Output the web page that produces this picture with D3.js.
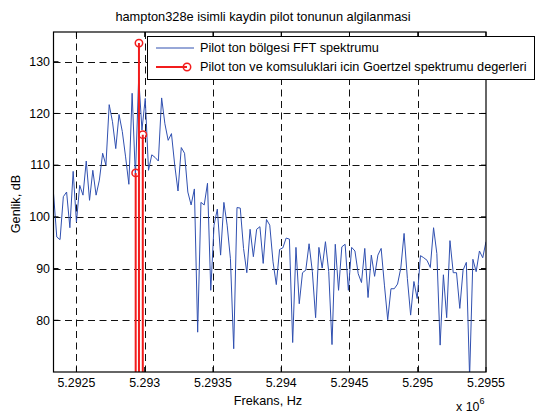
<!DOCTYPE html>
<html>
<head>
<meta charset="utf-8">
<script src="https://cdn.jsdelivr.net/npm/d3@7"></script>
<style>
  body { margin: 0; background: #fff; }
  text { font-family: "Liberation Sans", Arial, sans-serif; fill: #000; }
</style>
</head>
<body>
<div id="chart-area"></div>
<script>
// FFT spectrum around the pilot tone (uniform bins)
const freqStart = 5292332
const binWidth = 24
const fftDb = [
  104.5, 96.1, 95.6, 103.9, 104.8, 97.9, 108.8, 99.0, 106.1, 104.2,
  110.8, 103.2, 109.0, 104.2, 107.1, 112.3, 110.0, 121.7, 118.4, 113.2,
  119.8, 116.5, 111.6, 106.3, 123.9, 107.8, 127.0, 116.8, 122.9, 109.0,
  112.0, 111.5, 110.8, 123.0,
  118.0, 114.8, 116.1, 110.0, 105.0, 113.4, 112.3, 104.8, 102.3, 105.4,
  77.7, 102.8, 102.3, 106.5, 85.8, 98.4, 101.5, 92.6, 102.8, 98.4,
  91.9, 74.5, 101.8, 101.7, 93.9, 89.2, 97.6, 92.3, 97.6, 98.1,
  91.0, 99.5,
  98.4, 91.3, 86.9, 93.7, 94.0, 95.9, 95.7, 75.7, 94.1, 83.2,
  89.2, 89.7, 94.8, 89.4, 80.5, 94.1, 90.1, 95.2, 89.4, 75.3,
  94.7, 85.8, 94.2, 94.7, 85.8, 94.1, 93.4, 89.0, 87.3, 93.9,
  84.4, 92.6, 88.5,
  92.6, 93.9, 86.8, 80.1, 86.1, 86.1, 87.0, 90.1, 96.8, 88.1,
  81.0, 87.5, 84.2, 92.5, 92.1, 91.6, 90.2, 97.9, 92.9, 75.2,
  88.8, 80.5, 95.4, 89.2, 89.2, 82.3, 89.7, 91.2, 69.0, 91.8,
  89.4, 93.4, 92.1, 95.2
]

// Goertzel values for the pilot tone and its neighbours
const goertzelFreq = [5292934, 5292958, 5292986]
const goertzelDb = [108.5, 133.6, 115.9]

const xTicks = [5292500, 5293000, 5293500, 5294000, 5294500, 5295000, 5295500]
const xTickLabels = ["5.2925", "5.293", "5.2935", "5.294", "5.2945", "5.295", "5.2955"]
const yTicks = [80, 90, 100, 110, 120, 130]

const titleText = "hampton328e isimli kaydin pilot tonunun algilanmasi"
const legendLabels = ["Pilot ton bölgesi FFT spektrumu", "Pilot ton ve komsuluklari icin Goertzel spektrumu degerleri"]

const fft = fftDb.map((v, i) => ({ f: freqStart + i * binWidth, db: v }))
const goertzel = goertzelFreq.map((f, i) => ({ f: f, db: goertzelDb[i] }))

const W = 536, H = 415
const pLeft = 53.5, pRight = 486, pTop = 32, pBottom = 372

const svg = d3.select("#chart-area").append("svg")
  .attr("width", W)
  .attr("height", H)

const x = d3.scaleLinear()
  .domain([freqStart, 5295500])
  .range([pLeft, pRight])

const y = d3.scaleLinear()
  .domain([70, 135.75])
  .range([pBottom, pTop])

svg.append("defs").append("clipPath").attr("id", "clip")
  .append("rect")
  .attr("x", pLeft).attr("y", pTop)
  .attr("width", pRight - pLeft).attr("height", pBottom - pTop)

// grid
const grid = svg.append("g")
grid.selectAll(".vg").data(xTicks.slice(0, -1)).enter().append("line")
  .attr("x1", d => Math.round(x(d)) + 0.5).attr("x2", d => Math.round(x(d)) + 0.5)
  .attr("y1", pTop).attr("y2", pBottom)
  .attr("stroke", "#111").attr("stroke-width", 1)
  .attr("stroke-dasharray", "7,4.5")
grid.selectAll(".hg").data(yTicks).enter().append("line")
  .attr("x1", pLeft).attr("x2", pRight)
  .attr("y1", d => Math.round(y(d)) + 0.5).attr("y2", d => Math.round(y(d)) + 0.5)
  .attr("stroke", "#111").attr("stroke-width", 1)
  .attr("stroke-dasharray", "7,4.5")

const plot = svg.append("g").attr("clip-path", "url(#clip)")

// FFT line
plot.append("path")
  .datum(fft)
  .attr("fill", "none")
  .attr("stroke", "#3050b0")
  .attr("stroke-width", 1)
  .attr("d", d3.line().x(d => x(d.f)).y(d => y(d.db)))

// Goertzel stems
plot.selectAll(".stem").data(goertzel).enter().append("line")
  .attr("x1", d => x(d.f)).attr("x2", d => x(d.f))
  .attr("y1", pBottom + 5).attr("y2", d => y(d.db))
  .attr("stroke", "#f21c1c").attr("stroke-width", 2)

svg.selectAll(".mark").data(goertzel).enter().append("circle")
  .attr("cx", d => x(d.f)).attr("cy", d => y(d.db))
  .attr("r", 3.7)
  .attr("fill", "none")
  .attr("stroke", "#f21c1c").attr("stroke-width", 1.5)

// axes box and ticks
const axisG = svg.append("g")
axisG.append("rect")
  .attr("x", pLeft).attr("y", pTop)
  .attr("width", pRight - pLeft).attr("height", pBottom - pTop)
  .attr("fill", "none").attr("stroke", "#000").attr("stroke-width", 1.2)

xTicks.forEach(t => {
  axisG.append("line").attr("x1", x(t)).attr("x2", x(t)).attr("y1", pBottom).attr("y2", pBottom - 5).attr("stroke", "#000")
  axisG.append("line").attr("x1", x(t)).attr("x2", x(t)).attr("y1", pTop).attr("y2", pTop + 5).attr("stroke", "#000")
})
yTicks.forEach(t => {
  axisG.append("line").attr("x1", pLeft).attr("x2", pLeft + 5).attr("y1", y(t)).attr("y2", y(t)).attr("stroke", "#000")
  axisG.append("line").attr("x1", pRight).attr("x2", pRight - 5).attr("y1", y(t)).attr("y2", y(t)).attr("stroke", "#000")
})

svg.selectAll(".xl").data(xTicks).enter().append("text")
  .attr("x", d => x(d)).attr("y", 387)
  .attr("text-anchor", "middle")
  .style("font-size", "12.4px")
  .text((d, i) => xTickLabels[i])

svg.selectAll(".yl").data(yTicks).enter().append("text")
  .attr("x", 50).attr("y", d => y(d))
  .attr("dy", "0.35em")
  .attr("text-anchor", "end")
  .style("font-size", "12.4px")
  .text(d => d)

svg.append("text")
  .attr("x", 268).attr("y", 405)
  .attr("text-anchor", "middle")
  .style("font-size", "12.7px")
  .text("Frekans, Hz")

const exp = svg.append("text").attr("x", 456).attr("y", 411).style("font-size", "12.4px")
exp.append("tspan").text("x 10")
exp.append("tspan").attr("dy", -7).style("font-size", "9px").text("6")

svg.append("text")
  .attr("transform", "translate(20,204) rotate(-90)")
  .attr("text-anchor", "middle")
  .style("font-size", "12.7px")
  .text("Genlik, dB")

svg.append("text")
  .attr("x", 263).attr("y", 21)
  .attr("text-anchor", "middle")
  .style("font-size", "12.8px")
  .text(titleText)

// legend
const lg = svg.append("g")
lg.append("rect")
  .attr("x", 147.5).attr("y", 36.5)
  .attr("width", 387).attr("height", 43)
  .attr("fill", "#fff").attr("stroke", "#000").attr("stroke-width", 1)
lg.append("line").attr("x1", 156).attr("x2", 194).attr("y1", 48).attr("y2", 48)
  .attr("stroke", "#3050b0").attr("stroke-width", 1)
lg.append("line").attr("x1", 156).attr("x2", 187).attr("y1", 67).attr("y2", 67)
  .attr("stroke", "#f21c1c").attr("stroke-width", 2)
lg.append("circle").attr("cx", 187).attr("cy", 67).attr("r", 3.7)
  .attr("fill", "none").attr("stroke", "#f21c1c").attr("stroke-width", 1.5)
lg.selectAll(".lt").data(legendLabels).enter().append("text")
  .attr("x", 200).attr("y", (d, i) => 48 + i * 19)
  .attr("dy", "0.35em")
  .style("font-size", "12.7px")
  .text(d => d)
</script>
</body>
</html>
